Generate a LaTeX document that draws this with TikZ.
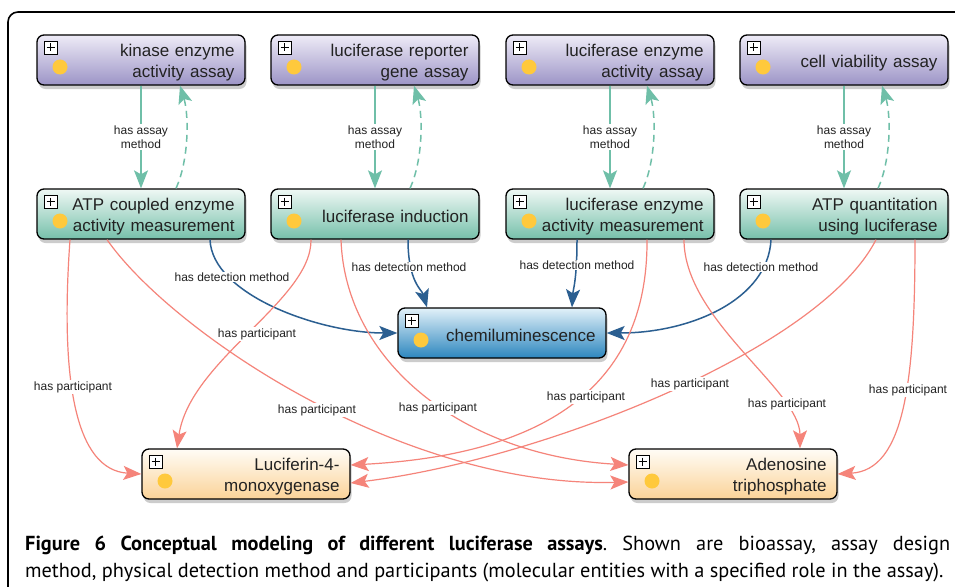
\documentclass[tikz,border=0pt]{standalone}
\usepackage{fontspec}
\newfontfamily\nodefont{Liberation Sans}
\newfontfamily\capfont{PT Sans}
\usetikzlibrary{arrows.meta,shadows}
\definecolor{pupTop}{HTML}{EEEBF7}
\definecolor{pupBot}{HTML}{9C94C6}
\definecolor{grnTop}{HTML}{EFF8F5}
\definecolor{grnBot}{HTML}{76C0AA}
\definecolor{bluTop}{HTML}{E2F1F9}
\definecolor{bluBot}{HTML}{2C86BE}
\definecolor{orgTop}{HTML}{FFFCF6}
\definecolor{orgBot}{HTML}{FBD398}
\definecolor{dotY}{HTML}{FFC93C}
\definecolor{tealE}{HTML}{6FBFA8}
\definecolor{blueE}{HTML}{2B5F91}
\definecolor{salE}{HTML}{F5847A}
\definecolor{txt}{HTML}{222222}
\tikzset{
  concept/.style={rounded corners=7pt, draw=black, line width=1.3pt,
    minimum width=208pt, minimum height=50pt, inner sep=0pt,
    text width=187pt, align=right, text=txt,
    font=\nodefont\fontsize{17}{21}\selectfont,
    execute at begin node={\rule{0pt}{18pt}},
    drop shadow={shadow xshift=1.5pt, shadow yshift=-4pt, opacity=0.4},
    path picture={
      \draw[sharp corners, line width=0.7pt, fill=white] ([shift={(7pt,-6pt)}]path picture bounding box.north west) rectangle ++(13pt,-13pt);
      \draw[sharp corners, line width=0.9pt] ([shift={(9.5pt,-12.5pt)}]path picture bounding box.north west) -- ++(8pt,0pt);
      \draw[sharp corners, line width=0.9pt] ([shift={(13.5pt,-8.5pt)}]path picture bounding box.north west) -- ++(0pt,-8pt);
      \fill[dotY] ([shift={(23pt,-32pt)}]path picture bounding box.north west) circle (7.5pt);
    }},
  assay/.style={concept, top color=pupTop, bottom color=pupBot},
  method/.style={concept, top color=grnTop, bottom color=grnBot},
  detect/.style={concept, top color=bluTop, bottom color=bluBot},
  entity/.style={concept, top color=orgTop, bottom color=orgBot},
  lab/.style={fill=white, inner sep=1pt, align=center, text=txt,
    font=\nodefont\fontsize{12}{14.5}\selectfont},
  tip/.style={-{Stealth[length=18pt, width=14pt, inset=4pt]}},
  amE/.style={tip, draw=tealE, line width=1.5pt},
  amD/.style={tip, draw=tealE, line width=1.5pt, dash pattern=on 7pt off 5pt},
  dmE/.style={tip, draw=blueE, line width=1.5pt},
  hpE/.style={tip, draw=salE, line width=1.2pt},
  captxt/.style={anchor=base west, inner sep=0pt, font=\capfont\fontsize{20.3}{27}\selectfont\frenchspacing},
}
\begin{document}
\begin{tikzpicture}[x=1pt,y=-1pt]
\useasboundingbox (0,0) rectangle (955,586);
\fill[white] (0,0) rectangle (955,586);
% frame
\draw[line width=1.6pt] (8,600) -- (8,22) arc[start angle=180, end angle=90, radius=10pt] -- (970,12);

% nodes
\node[assay] (ka) at (141,60) {kinase enzyme\\activity assay};
\node[assay] (ra) at (375,60) {luciferase reporter\\gene assay};
\node[assay] (ea) at (610,60) {luciferase enzyme\\activity assay};
\node[assay] (va) at (844,60) {cell viability assay};
\node[method] (kc) at (141,214) {ATP coupled enzyme\\activity measurement};
\node[method] (ri) at (375,214) {luciferase induction};
\node[method] (em) at (610,214) {luciferase enzyme\\activity measurement};
\node[method] (aq) at (844,214) {ATP quantitation\\using luciferase};
\node[detect] (ch) at (502,333) {chemiluminescence};
\node[entity] (lu) at (246,474) {Luciferin-4-\\monoxygenase};
\node[entity] (ad) at (733,474) {Adenosine\\triphosphate};

% has assay method
\draw[amE] (ka.south) -- (kc.north);
\draw[amE] (ra.south) -- (ri.north);
\draw[amE] (ea.south) -- (em.north);
\draw[amE] (va.south) -- (aq.north);
\draw[amD] ([xshift=35pt]kc.north) .. controls (189,160) and (189,115) .. ([xshift=39pt]ka.south);
\draw[amD] ([xshift=35pt]ri.north) .. controls (423,160) and (423,115) .. ([xshift=39pt]ra.south);
\draw[amD] ([xshift=33pt]em.north) .. controls (656,160) and (656,115) .. ([xshift=37pt]ea.south);
\draw[amD] ([xshift=34pt]aq.north) .. controls (891,160) and (891,115) .. ([xshift=38pt]va.south);

% has detection method
\draw[dmE] ([xshift=69pt]kc.south) .. controls (212,295) and (320,333) .. (ch.west);
\draw[dmE] ([xshift=33pt]ri.south) .. controls (408,282) and (422,290) .. ([xshift=-75pt]ch.north);
\draw[dmE] ([xshift=-33pt]em.south) .. controls (577,280) and (573,290) .. ([xshift=70pt]ch.north);
\draw[dmE] ([xshift=-73pt]aq.south) .. controls (768,300) and (690,333) .. (ch.east);

% has participant
\draw[hpE] ([xshift=-71pt]kc.south) .. controls (60,380) and (75,470) .. (lu.west);
\draw[hpE] ([xshift=-34pt]kc.south) .. controls (170,330) and (400,488) .. ([yshift=-8pt]ad.west);
\draw[hpE] ([xshift=-64pt]ri.south) .. controls (312,300) and (190,360) .. ([xshift=-69pt]lu.north);
\draw[hpE] ([xshift=-34pt]ri.south) .. controls (345,360) and (460,455) .. ([yshift=9pt]ad.west);
\draw[hpE] ([xshift=37pt]em.south) .. controls (648,390) and (540,455) .. ([yshift=9pt]lu.east);
\draw[hpE] ([xshift=74pt]em.south) .. controls (684,320) and (800,390) .. ([xshift=67pt]ad.north);
\draw[hpE] ([xshift=32pt]aq.south) .. controls (820,350) and (540,460) .. ([yshift=-9pt]lu.east);
\draw[hpE] ([xshift=71pt]aq.south) .. controls (915,380) and (905,470) .. (ad.east);

% labels
\node[lab] (l1) at (141,137) {has assay\\method};
\node[lab] (l2) at (375,137) {has assay\\method};
\node[lab] (l3) at (610,137) {has assay\\method};
\node[lab] (l4) at (844,137) {has assay\\method};
\node[lab] (d1) at (232,277) {has detection method};
\node[lab] (d2) at (409,267) {has detection method};
\node[lab] (d3) at (577,265) {has detection method};
\node[lab] (d4) at (761,267) {has detection method};
\node[lab] (p1) at (73,387) {has participant};
\node[lab] (p2) at (257,334) {has participant};
\node[lab] (p3) at (317,410) {has participant};
\node[lab] (p4) at (438,408) {has participant};
\node[lab] (p5) at (586,397) {has participant};
\node[lab] (p6) at (690,384) {has participant};
\node[lab] (p7) at (787,404) {has participant};
\node[lab] (p8) at (908,390) {has participant};

% caption
\node[captxt] (c1) at (25,550)
  {\makebox[925pt][s]{\textbf{Figure 6 Conceptual modeling of different luciferase assays}. Shown are bioassay, assay design}};
\node[captxt] (c2) at (25,577)
  {method, physical detection method and participants (molecular entities with a specified role in the assay).};
\end{tikzpicture}
\end{document}
